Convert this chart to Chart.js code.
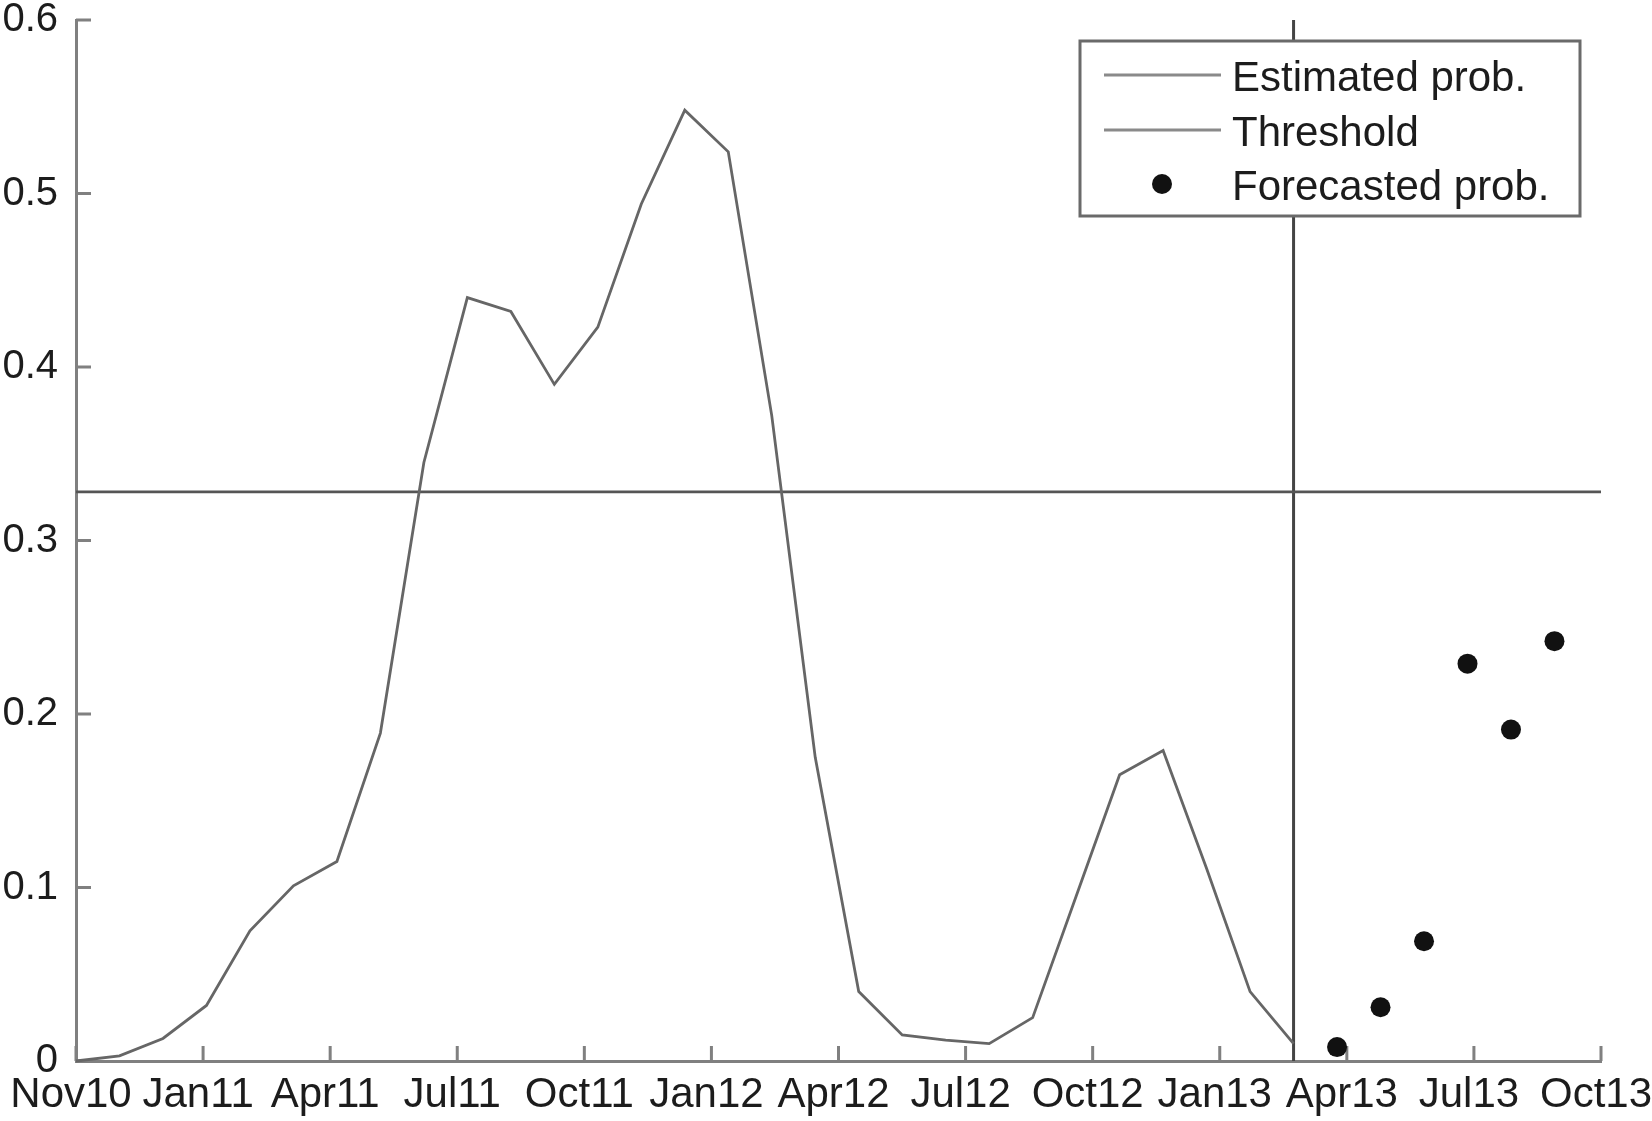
<!DOCTYPE html>
<html>
<head>
<meta charset="utf-8">
<title>Estimated and forecasted probability</title>
<script src="https://cdn.jsdelivr.net/npm/chart.js@4.4.1/dist/chart.umd.min.js"></script>
<style>
  html, body { margin: 0; padding: 0; background: #fff; }
  #wrap { width: 1652px; height: 1121px; }
</style>
</head>
<body>
<div id="wrap"><canvas id="chart" width="1652" height="1121"></canvas></div>
<script>
// monthly estimates, Nov10 .. Mar13 (index 0..28)
const ESTIMATED = [
  0.000, 0.003, 0.013, 0.032, 0.075, 0.101, 0.115, 0.189, 0.345, 0.440,
  0.432, 0.390, 0.423, 0.494, 0.548, 0.524, 0.372, 0.175, 0.040, 0.015,
  0.012, 0.010, 0.025, 0.095, 0.165, 0.179, 0.111, 0.040, 0.010
];
// forecasts for the following six months (index 29..34)
const FORECASTED = [0.008, 0.031, 0.069, 0.229, 0.191, 0.242];
const THRESHOLD = 0.328;

const X_TICK_LABELS = ['Nov10', 'Jan11', 'Apr11', 'Jul11', 'Oct11', 'Jan12', 'Apr12',
                       'Jul12', 'Oct12', 'Jan13', 'Apr13', 'Jul13', 'Oct13'];
const X_MAX = 35.07;
const Y_MIN = 0, Y_MAX = 0.6, Y_STEP = 0.1;

const LEGEND_LABELS = ['Estimated prob.', 'Threshold', 'Forecasted prob.'];

const AXIS_COLOR = '#808080';
const TEXT_COLOR = '#1c1c1c';
const FONT = "'Liberation Sans', Arial, sans-serif";

const estPoints = ESTIMATED.map((v, i) => ({ x: i, y: v }));
const lastEst = ESTIMATED.length - 1;
const fcPoints = FORECASTED.map((v, i) => ({ x: lastEst + 1 + i, y: v }));

// inward tick marks, drawn under the data so the dots cover them
const inwardTicks = {
  id: 'inwardTicks',
  beforeDatasetsDraw(chart) {
    const { ctx, chartArea } = chart;
    const xs = chart.scales.x, ys = chart.scales.y;
    ctx.save();
    ctx.strokeStyle = AXIS_COLOR;
    ctx.lineWidth = 3;
    ctx.beginPath();
    xs.ticks.forEach((t, i) => {
      const px = xs.getPixelForTick(i);
      ctx.moveTo(px, chartArea.bottom);
      ctx.lineTo(px, chartArea.bottom - 15);
    });
    ys.ticks.forEach((t, i) => {
      const py = ys.getPixelForTick(i);
      ctx.moveTo(chartArea.left, py);
      ctx.lineTo(chartArea.left + 15, py);
    });
    ctx.stroke();
    ctx.restore();
  }
};

// boxed legend in the upper right corner
const boxLegend = {
  id: 'boxLegend',
  afterDraw(chart) {
    const { ctx } = chart;
    const box = { left: 1080, top: 41, right: 1580, bottom: 216 };
    const rows = [75, 130, 184];
    ctx.save();
    ctx.fillStyle = '#fff';
    ctx.fillRect(box.left, box.top, box.right - box.left, box.bottom - box.top);
    ctx.strokeStyle = '#6a6a6a';
    ctx.lineWidth = 3;
    ctx.strokeRect(box.left, box.top, box.right - box.left, box.bottom - box.top);

    const items = chart.data.datasets.filter(d => LEGEND_LABELS.includes(d.label));
    items.forEach((ds, k) => {
      const y = rows[k];
      if (ds.showLine === false) {
        ctx.fillStyle = ds.backgroundColor;
        ctx.beginPath();
        ctx.arc(1162, y, ds.pointRadius, 0, Math.PI * 2);
        ctx.fill();
      } else {
        ctx.strokeStyle = '#8a8a8a';
        ctx.lineWidth = 3;
        ctx.beginPath();
        ctx.moveTo(1104, y);
        ctx.lineTo(1221, y);
        ctx.stroke();
      }
      ctx.fillStyle = TEXT_COLOR;
      ctx.font = '42px ' + FONT;
      ctx.textAlign = 'left';
      ctx.textBaseline = 'middle';
      ctx.fillText(ds.label, 1232, y + 4);
    });
    ctx.restore();
  }
};

new Chart(document.getElementById('chart'), {
  type: 'line',
  data: {
    datasets: [
      {
        label: LEGEND_LABELS[0],
        data: estPoints,
        borderColor: '#666',
        borderWidth: 2.8,
        pointRadius: 0,
        tension: 0,
        clip: false
      },
      {
        label: LEGEND_LABELS[1],
        data: [{ x: 0, y: THRESHOLD }, { x: X_MAX, y: THRESHOLD }],
        borderColor: '#555',
        borderWidth: 2.8,
        pointRadius: 0,
        clip: false
      },
      {
        label: LEGEND_LABELS[2],
        data: fcPoints,
        showLine: false,
        pointRadius: 10,
        pointBorderWidth: 0,
        backgroundColor: '#111',
        borderColor: '#111',
        clip: false
      },
      {
        label: 'forecast start',
        data: [{ x: lastEst, y: Y_MIN }, { x: lastEst, y: Y_MAX }],
        borderColor: '#444',
        borderWidth: 3,
        pointRadius: 0,
        clip: false
      }
    ]
  },
  options: {
    responsive: false,
    animation: false,
    events: [],
    layout: { padding: { top: 20, right: 51, left: 0, bottom: 0 } },
    plugins: {
      legend: { display: false },
      tooltip: { enabled: false }
    },
    scales: {
      x: {
        type: 'linear',
        min: 0,
        max: X_MAX,
        grid: { display: false, drawTicks: false },
        border: { display: true, color: AXIS_COLOR, width: 3 },
        afterBuildTicks(scale) {
          const step = X_MAX / (X_TICK_LABELS.length - 1);
          scale.ticks = X_TICK_LABELS.map((_, i) => ({ value: i * step }));
        },
        afterFit(scale) {
          scale.height = 60;
          scale.paddingLeft = 0;
          scale.paddingRight = 0;
        },
        ticks: {
          autoSkip: false,
          maxRotation: 0,
          padding: 9,
          labelOffset: -5,
          color: TEXT_COLOR,
          font: { family: FONT, size: 42 },
          callback: (v, i) => X_TICK_LABELS[i]
        }
      },
      y: {
        min: Y_MIN,
        max: Y_MAX,
        grid: { display: false, drawTicks: false },
        border: { display: true, color: AXIS_COLOR, width: 3 },
        afterFit(scale) {
          scale.width = 76;
          scale.paddingTop = 0;
          scale.paddingBottom = 0;
        },
        ticks: {
          stepSize: Y_STEP,
          padding: 18,
          color: TEXT_COLOR,
          font: { family: FONT, size: 40 }
        }
      }
    }
  },
  plugins: [inwardTicks, boxLegend]
});
</script>
</body>
</html>
